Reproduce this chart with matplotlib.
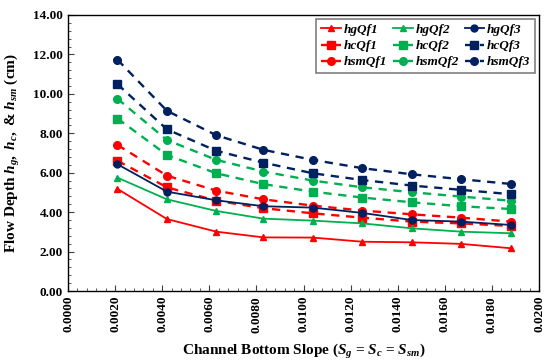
import numpy as np
import matplotlib
matplotlib.use('Agg')
import matplotlib.pyplot as plt
from matplotlib.ticker import MultipleLocator, FormatStrFormatter

plt.rcParams['font.family'] = ['Liberation Serif', 'DejaVu Serif']
plt.rcParams['font.weight'] = 'bold'
plt.rcParams['mathtext.fontset'] = 'custom'
plt.rcParams['mathtext.it'] = 'Liberation Serif:italic:bold'
plt.rcParams['mathtext.rm'] = 'Liberation Serif:bold'

# slope values on the x axis
slope = [0.0021, 0.0042, 0.0063, 0.0083, 0.0104, 0.0125, 0.0146, 0.0167, 0.0188]

# flow depths (cm)
hgQf1 = [5.18, 3.65, 3.01, 2.72, 2.71, 2.50, 2.47, 2.39, 2.17]
hcQf1 = [6.61, 5.26, 4.58, 4.20, 3.94, 3.72, 3.52, 3.43, 3.30]
hsmQf1 = [7.41, 5.85, 5.09, 4.65, 4.33, 4.08, 3.89, 3.72, 3.52]
hgQf2 = [5.75, 4.65, 4.06, 3.67, 3.57, 3.43, 3.18, 3.01, 2.93]
hcQf2 = [8.75, 6.90, 5.97, 5.42, 5.04, 4.74, 4.50, 4.30, 4.16]
hsmQf2 = [9.75, 7.66, 6.65, 6.06, 5.60, 5.26, 5.01, 4.79, 4.58]
hgQf3 = [6.43, 5.04, 4.60, 4.30, 4.23, 3.96, 3.60, 3.52, 3.35]
hcQf3 = [10.49, 8.20, 7.11, 6.51, 5.97, 5.63, 5.35, 5.13, 4.91]
hsmQf3 = [11.73, 9.14, 7.90, 7.16, 6.65, 6.23, 5.92, 5.67, 5.43]

red = '#FF0000'
green = '#00B050'
navy = '#002060'

series = [
    ('hgQf1', hgQf1, red, '^', '-'),
    ('hcQf1', hcQf1, red, 's', '--'),
    ('hsmQf1', hsmQf1, red, 'o', '--'),
    ('hgQf2', hgQf2, green, '^', '-'),
    ('hcQf2', hcQf2, green, 's', '--'),
    ('hsmQf2', hsmQf2, green, 'o', '--'),
    ('hgQf3', hgQf3, navy, 'o', '-'),
    ('hcQf3', hcQf3, navy, 's', '--'),
    ('hsmQf3', hsmQf3, navy, 'o', '--'),
]

fig = plt.figure(figsize=(5.45, 3.63), dpi=100)
ax = fig.add_axes([0.1248, 0.1983, 0.8642, 0.7604])

for name, vals, col, mk, ls in series:
    if ls == '-':
        ax.plot(slope, vals, color=col, marker=mk, ms=5, lw=1.3, ls='-', label=name)
    else:
        ax.plot(slope, vals, color=col, marker=mk, ms=5.5, lw=1.7, ls=(0, (3.5, 2.8)), label=name)

ax.set_xlim(0, 0.02)
ax.set_ylim(0, 14)
ax.xaxis.set_major_locator(MultipleLocator(0.002))
ax.xaxis.set_minor_locator(MultipleLocator(0.0004))
ax.yaxis.set_major_locator(MultipleLocator(2))
ax.yaxis.set_minor_locator(MultipleLocator(0.4))
ax.xaxis.set_major_formatter(FormatStrFormatter('%.4f'))
ax.yaxis.set_major_formatter(FormatStrFormatter('%.2f'))
ax.tick_params(axis='both', which='both', direction='in', top=False, right=False,
               labelsize=9.5, color='#404040')
ax.tick_params(which='major', length=4)
ax.tick_params(which='minor', length=2.5)
for lab in ax.get_xticklabels():
    lab.set_rotation(90)
for sp in ax.spines.values():
    sp.set_linewidth(1.0)

ax.set_xlabel('Channel Bottom Slope ($S_g$ = $S_c$ = $S_{sm}$)', fontsize=11, fontweight='bold', labelpad=7)
ax.set_ylabel('Flow Depth $h_{g},$ $h_{c},$ & $h_{sm}$ (cm)', fontsize=11, fontweight='bold', labelpad=8)

leg = ax.legend(ncol=3, loc='upper right', bbox_to_anchor=(0.9915, 0.985), borderaxespad=0,
                fancybox=False,
                prop={'family': 'Liberation Serif', 'style': 'italic', 'weight': 'bold', 'size': 9.5},
                handlelength=1.5, handletextpad=0.2, columnspacing=0.45, labelspacing=0.3,
                borderpad=0.35, framealpha=1)
leg.get_frame().set_edgecolor('#7F7F7F')
leg.get_frame().set_linewidth(1.2)

fig.savefig('out.png', dpi=100)
